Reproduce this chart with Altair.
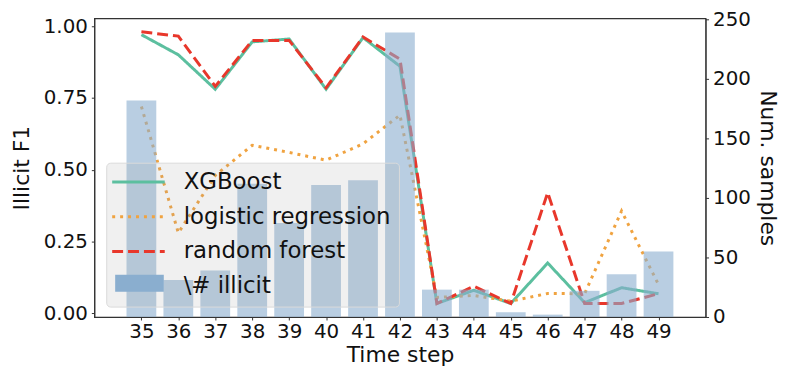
import altair as alt
import pandas as pd

steps = list(range(35, 50))
xgboost = [0.97, 0.90, 0.78, 0.945, 0.955, 0.78, 0.96, 0.86, 0.034, 0.08, 0.034, 0.175, 0.037, 0.089, 0.068]
logreg = [0.72, 0.28, 0.48, 0.585, 0.56, 0.533, 0.59, 0.69, 0.055, 0.062, 0.042, 0.069, 0.068, 0.356, 0.10]
rforest = [0.98, 0.965, 0.79, 0.95, 0.95, 0.785, 0.962, 0.885, 0.034, 0.094, 0.034, 0.42, 0.034, 0.034, 0.068]
illicit = [182, 31, 39, 112, 79, 111, 115, 239, 23, 23, 4, 2, 22, 36, 55]

series_names = ["XGBoost", "logistic regression", "random forest", "\\# illicit"]
series_colors = ["#5cbf9f", "#f0a340", "#e8372b", "transparent"]
series_dash = [[1, 0], [3, 5], [11, 5], [1, 0]]
series_width = [3, 3, 3, 0]
bar_color = "#8aaecf"

rows = []
for name, vals in zip(series_names[:3], [xgboost, logreg, rforest]):
    for s, v in zip(steps, vals):
        rows.append({"step": s, "f1": v, "series": name})
lines_df = pd.DataFrame(rows)
bars_df = pd.DataFrame({"step": steps, "count": illicit, "series": series_names[3]})

FONT = "DejaVu Sans"

x_enc = alt.X("step:Q",
              scale=alt.Scale(domain=[33.86, 50.14], nice=False, zero=False),
              axis=alt.Axis(values=steps, format="d", title="Time step",
                            titlePadding=3, labelPadding=2, orient="bottom"))

legend = alt.Legend(
    title=None, orient="none", legendX=12, legendY=145.5,
    labelFontSize=23, labelFont=FONT, labelColor="#111", labelLimit=400,
    symbolSize=9, rowPadding=11, labelOffset=47, padding=8,
    fillColor="rgba(160,160,160,0.16)", strokeColor="#dadada", cornerRadius=4,
    symbolType="M-9,0H26.3",
)

bar_legend = alt.Legend(
    title=None, orient="none", legendX=21, legendY=257,
    labelExpr="''", labelFontSize=20, padding=0,
    symbolSize=400, symbolType="M-1,-0.85H3.9V0.85H-1Z",
    symbolStrokeWidth=0, symbolOpacity=1,
)

color_scale = alt.Scale(domain=series_names, range=series_colors)
dash_scale = alt.Scale(domain=series_names, range=series_dash)
width_scale = alt.Scale(type="ordinal", domain=series_names, range=series_width)

lines = alt.Chart(lines_df).mark_line(strokeCap="butt").encode(
    x=x_enc,
    y=alt.Y("f1:Q", scale=alt.Scale(domain=[-0.013, 1.027], nice=False, zero=False),
            axis=alt.Axis(values=[0, 0.25, 0.5, 0.75, 1.0], format=".2f",
                          title="Illicit F1", orient="left", titlePadding=10)),
    color=alt.Color("series:N", scale=color_scale, legend=legend),
    strokeDash=alt.StrokeDash("series:N", scale=dash_scale, legend=legend),
    strokeWidth=alt.StrokeWidth("series:N", scale=width_scale, legend=legend),
    detail="series:N",
)

bars = alt.Chart(bars_df).mark_bar(size=30, opacity=0.6).encode(
    x=x_enc,
    y=alt.Y("count:Q", scale=alt.Scale(domain=[0, 251], nice=False),
            axis=alt.Axis(values=[0, 50, 100, 150, 200, 250], title="Num. samples",
                          orient="right", titlePadding=5)),
    fill=alt.Fill("series:N", scale=alt.Scale(domain=[series_names[3]], range=[bar_color]),
                  legend=bar_legend),
)

chart = alt.layer(lines, bars).resolve_scale(y="independent").properties(
    width=616, height=301,
    autosize=alt.AutoSizeParams(type="none"),
    padding={"left": 87, "top": 9, "right": 75, "bottom": 51},
).configure_view(stroke="#333", strokeWidth=1.2).configure_axis(
    labelFont=FONT, titleFont=FONT, labelFontSize=20, titleFontSize=22,
    titleFontWeight="normal", labelColor="#111", titleColor="#111",
    domainColor="#333", tickColor="#333", tickSize=3, labelPadding=4, grid=False,
)

chart.save("out.html", embed_options={"renderer": "svg", "actions": False})
